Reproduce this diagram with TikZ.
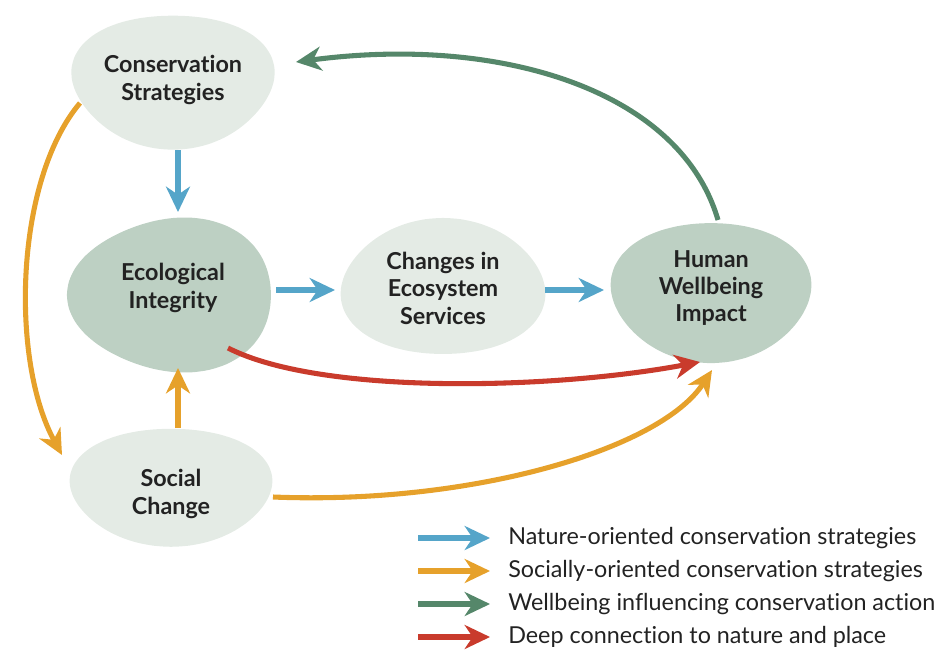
\documentclass[tikz,border=0pt]{standalone}
\usepackage{fontspec}
\setmainfont[Ligatures=NoCommon]{Lato}
\usetikzlibrary{arrows.meta,calc,shapes.geometric}
\definecolor{blobl}{HTML}{E4EBE5}
\definecolor{blobd}{HTML}{BDD0C3}
\definecolor{natc}{HTML}{55A5C9}
\definecolor{socc}{HTML}{E6A12B}
\definecolor{wellc}{HTML}{55876A}
\definecolor{deepc}{HTML}{C93B2C}
\definecolor{ink}{HTML}{222222}

\begin{document}
\begin{tikzpicture}[x=0.75pt,y=-0.75pt,
	lbl/.style={ellipse,align=center,font=\bfseries\fontsize{17.5}{20.6}\selectfont,text=ink},
	arr/.style={line width=3.8pt,-{Stealth[length=19pt,width=18pt,inset=6pt]}},
	nat/.style={arr,natc}, socl/.style={arr,socc}, well/.style={arr,wellc}, deep/.style={arr,deepc},
	leg/.style={anchor=west,inner sep=0pt,font=\fontsize{17.5}{20}\selectfont,text=ink}]
	\newcommand{\blob}[7]{\fill[#1] plot[smooth cycle,domain=0:350,samples=36]
		({#2+#4*(1+#6*cos(3*(\x-#7)))*cos(\x)}, {#3+#5*(1+#6*cos(3*(\x-#7)))*sin(\x)});} %colour,cx,cy,rx,ry,wobble,angle
	\useasboundingbox (0,0) rectangle (944,650);
	% blobs
	\blob{blobl}{173}{80}{101}{67}{0.04}{330} %conservation
	\blob{blobd}{173}{295}{102}{77}{0.04}{60} %ecological
	\blob{blobl}{443}{288}{102}{68}{0.03}{270} %changes
	\blob{blobd}{711}{291}{100}{70}{0.03}{90} %wellbeing
	\blob{blobl}{171}{486}{101}{59}{0.03}{210} %social
	% labels
	\node[lbl] (cons) at (173,80) {Conservation\\Strategies};
	\node[lbl] (eco) at (173,288) {Ecological\\Integrity};
	\node[lbl] (chg) at (443,288) {Changes in\\Ecosystem\\Services};
	\node[lbl] (hum) at (711,288) {Human\\Wellbeing\\Impact};
	\node[lbl] (soc) at (171,494) {Social\\Change};
	% connectors
	\draw[nat] ($(cons)+(5,70)$) -- ($(eco)+(5,-76)$);
	\draw[nat] ($(eco)+(103,2)$) -- ($(chg)+(-108,2)$);
	\draw[nat] ($(chg)+(102,2)$) -- ($(hum)+(-107,2)$);
	\draw[socl] ($(soc)+(7,-66)$) -- ($(eco)+(5,80)$);
	\draw[socl] ($(cons)+(-93,23)$) .. controls (15,180) and (10,360) .. ($(soc)+(-109,-39)$);
	\draw[socl] ($(soc)+(102,3)$) .. controls (470,505) and (660,450) .. ($(hum)+(1,82)$);
	\draw[deep] ($(eco)+(55,60)$) .. controls (320,395) and (550,390) .. ($(hum)+(-11,74)$);
	\draw[well] ($(hum)+(7,-68)$) .. controls (680,90) and (500,35) .. ($(cons)+(123,-18)$);
	% legend
	\node[leg] (l1) at (508,538) {Nature-oriented conservation strategies};
	\node[leg] (l2) at (508,571) {Socially-oriented conservation strategies};
	\node[leg] (l3) at (508,604) {Wellbeing influencing conservation action};
	\node[leg] (l4) at (508,637) {Deep connection to nature and place};
	\foreach \n/\s in {l1/nat,l2/socl,l3/well,l4/deep}
		\draw[\s] ($(\n.west)+(-90,0)$) -- ($(\n.west)+(-18,0)$);
\end{tikzpicture}
\end{document}
